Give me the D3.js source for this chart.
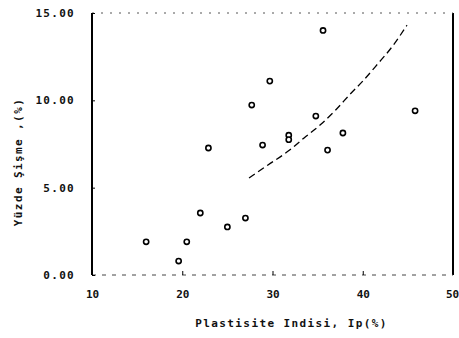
<!DOCTYPE html>
<html>
<head>
<meta charset="utf-8">
<script src="https://cdn.jsdelivr.net/npm/d3@7"></script>
<style>
  body { margin: 0; background: #fff; }
  text { font-family: "DejaVu Sans Mono", monospace; font-weight: bold; fill: #111; }
</style>
</head>
<body>
<svg width="459" height="338"></svg>
<script>
// data
var ip      = [16.0, 20.5, 19.6, 22.0, 22.9, 25.0, 27.0, 27.7, 28.9, 29.7, 31.8, 31.8, 34.8, 35.6, 36.1, 37.8, 45.8];
var swell   = [1.9,  1.9,  0.8,  3.55, 7.27, 2.75, 3.26, 9.73, 7.44, 11.1, 8.0,  7.75, 9.1,  14.0, 7.15, 8.13, 9.4];

// fitted trend line
var fit_x   = [27.4, 29.5, 31.9, 33.5, 35.3, 37.0, 38.6, 40.0, 41.6, 43.3, 44.9];
var fit_y   = [5.55, 6.3,  7.15, 7.85, 8.6,  9.45, 10.35, 11.1, 12.05, 13.1, 14.3];

var x_ticks = [10, 20, 30, 40, 50];
var y_ticks = [0, 5, 10, 15];

var x_title = "Plastisite Indisi, Ip(%)";
var y_title = "Yüzde Şişme ,(%)";

// display
var margin = {top: 13, right: 6, bot: 63, left: 92};
var W = 459, H = 338;

var svg = d3.select("svg");

var x = d3.scaleLinear().domain([10, 50]).range([margin.left, W - margin.right]);
var y = d3.scaleLinear().domain([0, 15]).range([H - margin.bot, margin.top]);

// frame: left and right solid, top and bottom broken (scanned look)
var frame = svg.append("g");
frame.append("line")
    .attr("x1", x(10)).attr("x2", x(10))
    .attr("y1", y(15)).attr("y2", y(0))
    .attr("stroke", "#000").attr("stroke-width", 2);
frame.append("line")
    .attr("x1", x(50)).attr("x2", x(50))
    .attr("y1", y(15)).attr("y2", y(0))
    .attr("stroke", "#000").attr("stroke-width", 2);
frame.append("line")
    .attr("x1", x(10)).attr("x2", x(50))
    .attr("y1", y(15)).attr("y2", y(15))
    .attr("stroke", "#555").attr("stroke-width", 1)
    .attr("stroke-dasharray", "2,7");
frame.append("line")
    .attr("x1", x(10)).attr("x2", x(50))
    .attr("y1", y(0)).attr("y2", y(0))
    .attr("stroke", "#444").attr("stroke-width", 1)
    .attr("stroke-dasharray", "4,6");

// y axis
var yAxis = d3.axisLeft(y)
    .tickValues(y_ticks)
    .tickSize(-3)
    .tickPadding(17)
    .tickFormat(d3.format(".2f"));
var gy = svg.append("g")
    .attr("transform", "translate(" + x(10) + ",0)")
    .call(yAxis);
gy.select(".domain").remove();
gy.selectAll("text")
    .attr("font-size", 11)
    .attr("letter-spacing", 1.3)
    .attr("font-family", "DejaVu Sans Mono")
    .attr("font-weight", "bold");

// x axis
var xAxis = d3.axisBottom(x)
    .tickValues(x_ticks)
    .tickSize(-4)
    .tickPadding(15)
    .tickFormat(d3.format("d"));
var gx = svg.append("g")
    .attr("transform", "translate(0," + y(0) + ")")
    .call(xAxis);
gx.select(".domain").remove();
gx.selectAll("text")
    .attr("font-size", 11)
    .attr("font-family", "DejaVu Sans Mono")
    .attr("font-weight", "bold")
    .attr("dx", function(d) { return d == 50 ? -1 : 0; });

// titles
svg.append("text")
    .attr("x", (x(10) + x(50)) / 2 + 19)
    .attr("y", 327)
    .attr("text-anchor", "middle")
    .attr("font-size", 11)
    .attr("letter-spacing", 1.4)
    .text(x_title);

svg.append("text")
    .attr("transform", "translate(22,162) rotate(-90)")
    .attr("text-anchor", "middle")
    .attr("font-size", 11)
    .attr("letter-spacing", 1.4)
    .text(y_title);

// trend line
var fit = d3.range(fit_x.length).map(function(i) { return [fit_x[i], fit_y[i]]; });
svg.append("path")
    .datum(fit)
    .attr("fill", "none")
    .attr("stroke", "#000")
    .attr("stroke-width", 1.3)
    .attr("stroke-dasharray", "7,4")
    .attr("d", d3.line()
        .x(function(d) { return x(d[0]); })
        .y(function(d) { return y(d[1]); })
        .curve(d3.curveMonotoneX));

// points
var pts = d3.range(ip.length).map(function(i) { return {ip: ip[i], s: swell[i]}; });
svg.append("g")
    .selectAll("circle")
    .data(pts)
    .enter()
    .append("circle")
    .attr("cx", function(d) { return x(d.ip); })
    .attr("cy", function(d) { return y(d.s); })
    .attr("r", 2.6)
    .attr("fill", "#fff")
    .attr("stroke", "#000")
    .attr("stroke-width", 1.6);
</script>
</body>
</html>
